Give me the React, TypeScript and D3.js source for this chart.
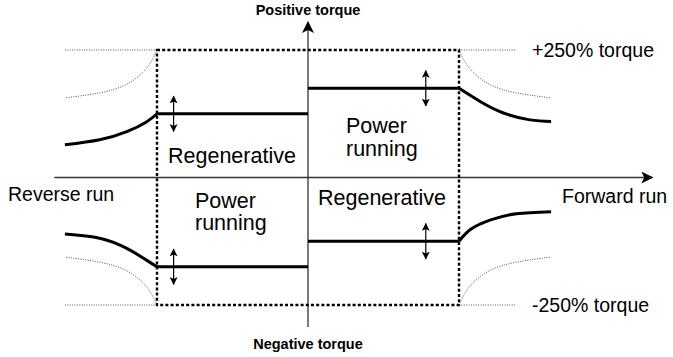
import React from "react";
import * as d3 from "d3";

// speed in % of base speed, torque in % of rated torque
const boxSpeeds = [-100, 100];
const boxTorques = [-250, 250];
const limitSpeeds = [100, 107, 120, 138, 161];
const limitTorques = [250, 214, 183, 166, 156];
const limitLineEnds = [161, 138]; // thin dotted +/-250% line, reverse side / forward side

const flatStarts = [-100, 0, -100, 0];
const flatEnds = [0, 100, 0, 100];
const flatTorques = [125, 175, -175, -125];

const revUpperSpeeds = [-161, -138, -120, -107, -100];
const revUpperTorques = [64, 74, 90, 109, 125];
const fwdUpperSpeeds = [100, 114, 129, 147, 161];
const fwdUpperTorques = [175, 149, 127, 113, 110];
const revLowerSpeeds = [-161, -138, -120, -107, -100];
const revLowerTorques = [-111, -119, -139, -162, -175];
const fwdLowerSpeeds = [100, 108, 121, 138, 161];
const fwdLowerTorques = [-125, -101, -83, -71, -67];

const arrowSpeeds = [-89, 78, -89, 78];
const arrowSpan = 35;

const speedAxisExtent = [-168, 228];
const torqueAxisExtent = [-293, 305];

const width = 673;
const height = 357;
const sans = "'Liberation Sans', Arial, Helvetica, sans-serif";

const App = () => {
    const x = d3.scaleLinear().domain([-100, 100]).range([157, 459]);
    const y = d3.scaleLinear().domain([-250, 250]).range([305, 50]);
    const x0 = x(0);
    const y0 = y(0);

    const smooth = d3.line<number[]>()
        .x((d) => x(d[0]))
        .y((d) => y(d[1]))
        .curve(d3.curveNatural);
    const straight = d3.line<number[]>().x((d) => x(d[0])).y((d) => y(d[1]));

    const zipped = (s: number[], t: number[]) => s.map((v, i) => [v, t[i]]);
    // limit curve mirrored into the four quadrants
    const limitCurves = [
        [-1, 1], [1, 1], [-1, -1], [1, -1]
    ].map(([sx, sy]) => limitSpeeds.map((s, i) => [s * sx, limitTorques[i] * sy]));

    const thickCurves = [
        zipped(revUpperSpeeds, revUpperTorques),
        zipped(fwdUpperSpeeds, fwdUpperTorques),
        zipped(revLowerSpeeds, revLowerTorques),
        zipped(fwdLowerSpeeds, fwdLowerTorques)
    ];

    const thinDots: number[][][] = [];
    boxTorques.forEach((t) => {
        thinDots.push([[-limitLineEnds[0], t], [boxSpeeds[0], t]]);
        thinDots.push([[boxSpeeds[1], t], [limitLineEnds[1], t]]);
    });

    const regionLabel = { fontFamily: sans, fontSize: 21.5, fill: "#000" };
    const edgeLabel = { fontFamily: sans, fontSize: 19.5, fill: "#000" };
    const axisTitle = { fontFamily: sans, fontSize: 14.5, fontWeight: 700, fill: "#000" };

    return (
        <svg width={width} height={height} style={{ position: "absolute", left: 0, top: 0, background: "#fff" }}>
            <defs>
                <marker id="axisHead" viewBox="0 0 12 12" refX="11" refY="6" markerWidth="12" markerHeight="12"
                    markerUnits="userSpaceOnUse" orient="auto">
                    <path d="M0,0 L12,6 L0,12 L3,6 Z" fill="#000" />
                </marker>
                <marker id="smallHead" viewBox="0 0 8 9" refX="7.5" refY="4" markerWidth="8" markerHeight="9"
                    markerUnits="userSpaceOnUse" orient="auto-start-reverse">
                    <path d="M0,0 L8,4 L0,8 L2,4 Z" fill="#000" />
                </marker>
            </defs>

            {/* axes */}
            <line x1={x(speedAxisExtent[0])} x2={x(speedAxisExtent[1])} y1={y0} y2={y0}
                stroke="#333" strokeWidth={1.3} markerEnd="url(#axisHead)" />
            <line x1={x0} x2={x0} y1={y(torqueAxisExtent[0])} y2={y(torqueAxisExtent[1])}
                stroke="#333" strokeWidth={1.3} markerEnd="url(#axisHead)" />

            {/* thin dotted torque limits */}
            {limitCurves.map((c, i) => (
                <path key={"lc" + i} d={smooth(c) || ""} fill="none" stroke="#555" strokeWidth={1} strokeDasharray="1,1.4" />
            ))}
            {thinDots.map((c, i) => (
                <path key={"td" + i} d={straight(c) || ""} fill="none" stroke="#555" strokeWidth={1} strokeDasharray="1,1.4" />
            ))}

            {/* dotted box */}
            <rect x={x(boxSpeeds[0])} y={y(boxTorques[1])} width={x(boxSpeeds[1]) - x(boxSpeeds[0])}
                height={y(boxTorques[0]) - y(boxTorques[1])} fill="none" stroke="#000" strokeWidth={2.4} strokeDasharray="3,2.2" />

            {/* torque limit characteristic */}
            {flatTorques.map((t, i) => (
                <path key={"fl" + i} d={straight([[flatStarts[i], t], [flatEnds[i], t]]) || ""} fill="none"
                    stroke="#000" strokeWidth={3} />
            ))}
            {thickCurves.map((c, i) => (
                <path key={"tc" + i} d={smooth(c) || ""} fill="none" stroke="#000" strokeWidth={3} />
            ))}

            {/* adjustment arrows */}
            {arrowSpeeds.map((s, i) => (
                <line key={"ar" + i} x1={x(s)} x2={x(s)} y1={y(flatTorques[i] + arrowSpan)} y2={y(flatTorques[i] - arrowSpan)}
                    stroke="#000" strokeWidth={1.2} markerStart="url(#smallHead)" markerEnd="url(#smallHead)" />
            ))}

            {/* labels */}
            <text x={x0} y={15} textAnchor="middle" style={axisTitle}>Positive torque</text>
            <text x={x0} y={349} textAnchor="middle" style={axisTitle}>Negative torque</text>
            <text x={532} y={57} style={edgeLabel}>+250% torque</text>
            <text x={532} y={312} style={edgeLabel}>-250% torque</text>
            <text x={8} y={201} style={edgeLabel}>Reverse run</text>
            <text x={562} y={203} style={edgeLabel}>Forward run</text>

            <text x={168} y={163} style={regionLabel}>Regenerative</text>
            <text x={346} y={133} style={regionLabel}>Power</text>
            <text x={346} y={156} style={regionLabel}>running</text>
            <text x={195} y={208} style={regionLabel}>Power</text>
            <text x={195} y={230} style={regionLabel}>running</text>
            <text x={318} y={205} style={regionLabel}>Regenerative</text>
        </svg>
    );
};

export default App;
